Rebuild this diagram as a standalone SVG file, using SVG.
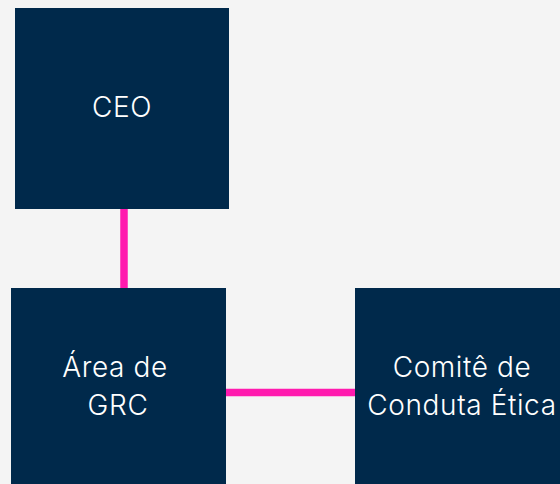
<svg xmlns="http://www.w3.org/2000/svg" width="560" height="484" viewBox="0 0 560 484">
<style>
.node{fill:#00294b}
.lbl{fill:#ffffff;font-family:Inter,"Liberation Sans",sans-serif;font-size:28px;font-weight:300;letter-spacing:0.6px;text-anchor:middle}
.conn{stroke:#ff1aae;stroke-width:7.5;fill:none}
</style>
<rect x="0" y="0" width="560" height="484" fill="#f4f4f4"/>
<g id="connectors">
<line class="conn" x1="124" y1="209" x2="124" y2="288"/>
<line class="conn" x1="226" y1="392.5" x2="355" y2="392.5"/>
</g>
<g id="ceo">
<rect class="node" x="15" y="8" width="214" height="201"/>
<text class="lbl" x="122" y="117">CEO</text>
</g>
<g id="grc">
<rect class="node" x="11" y="288" width="215" height="200"/>
<text class="lbl" x="115" y="377">Área de</text>
<text class="lbl" x="118" y="415">GRC</text>
</g>
<g id="comite">
<rect class="node" x="355" y="288" width="214" height="200"/>
<text class="lbl" x="462" y="377">Comitê de</text>
<text class="lbl" x="462" y="415">Conduta Ética</text>
</g>
</svg>
